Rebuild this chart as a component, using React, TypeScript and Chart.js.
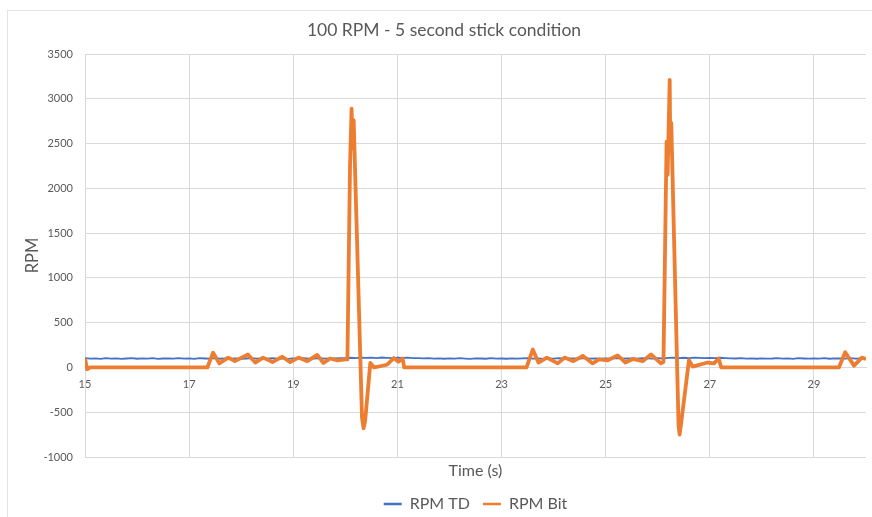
import React, { useEffect, useRef } from "react";
import { Chart, registerables } from "chart.js";

Chart.register(...registerables);

const TITLE = "100 RPM - 5 second stick condition";
const X_TITLE = "Time (s)";
const Y_TITLE = "RPM";
const SERIES_TD = "RPM TD";
const SERIES_BIT = "RPM Bit";
const X_TICKS = [15, 17, 19, 21, 23, 25, 27, 29];
const X_MIN = 15;
const X_MAX = 30;
const Y_MIN = -1000;
const Y_MAX = 3500;
const Y_STEP = 500;

// RPM TD is sampled evenly every 0.1 s starting at 15 s
const TD_START = 15;
const TD_STEP = 0.1;
const rpmTD = [
  104, 98, 101, 96, 103, 99, 102, 95, 100, 104,
  97, 101, 99, 103, 96, 100, 102, 98, 105, 99,
  101, 96, 103, 100, 98, 104, 97, 101, 99, 102,
  96, 100, 103, 98, 101, 97, 104, 99, 102, 96,
  101, 99, 103, 97, 100, 104, 98, 102, 100, 105,
  103, 108, 104, 110, 106, 109, 105, 111, 107, 104,
  109, 106, 110, 105, 103, 101, 104, 99, 102, 97,
  101, 98, 103, 99, 96, 102, 100, 97, 103, 99,
  100, 97, 102, 98, 101, 104, 99, 102, 96, 101,
  99, 103, 97, 101, 100, 98, 104, 99, 102, 97,
  101, 99, 104, 98, 102, 100, 97, 103, 101, 99,
  104, 100, 106, 109, 105, 108, 104, 110, 106, 103,
  107, 104, 108, 105, 102, 100, 103, 99, 101, 97,
  102, 98, 100, 104, 99, 101, 96, 103, 100, 98,
  101, 99, 103, 97, 102, 100, 98, 104, 99, 101,
  100,
];

const timeBit = [
  15.0, 15.04, 15.1, 17.35, 17.46, 17.58, 17.75, 17.88, 18.13, 18.27,
  18.42, 18.6, 18.79, 18.94, 19.1, 19.27, 19.46, 19.58, 19.71, 19.85,
  20.0, 20.04, 20.09, 20.12, 20.14, 20.16, 20.32, 20.35, 20.38, 20.48,
  20.55, 20.6, 20.8, 20.93, 21.02, 21.1, 21.13, 23.48, 23.6, 23.71,
  23.87, 24.08, 24.21, 24.38, 24.56, 24.75, 24.87, 25.04, 25.23, 25.38,
  25.52, 25.71, 25.87, 26.06, 26.11, 26.17, 26.19, 26.23, 26.24, 26.26,
  26.4, 26.42, 26.45, 26.6, 26.67, 26.96, 27.08, 27.17, 27.22, 29.48,
  29.6, 29.77, 29.92, 30.0,
];
const rpmBit = [
  100, -20, 0, 0, 165, 45, 110, 70, 145, 55,
  110, 60, 120, 60, 110, 70, 140, 50, 100, 80,
  90, 90, 2250, 2890, 2450, 2760, -560, -680, -600, 50,
  0, 5, 30, 105, 65, 100, 0, 0, 200, 55,
  110, 45, 110, 70, 130, 45, 90, 80, 135, 55,
  95, 70, 145, 45, 60, 2520, 2150, 3210, 2450, 2730,
  -650, -750, -620, 80, 10, 55, 45, 100, 0, 0,
  170, 20, 110, 95,
];

const FONT = "Lato, 'Open Sans', sans-serif";
const TEXT = "#595959";
const GRID = "#d9d9d9";
const BLUE = "#4472C4";
const ORANGE = "#ED7D31";

export default function App() {
  const ref = useRef<HTMLCanvasElement | null>(null);

  useEffect(() => {
    if (!ref.current) return;
    const tdData = rpmTD.map((v, i) => ({ x: TD_START + i * TD_STEP, y: v }));
    const bitData = timeBit.map((t, i) => ({ x: t, y: rpmBit[i] }));

    const chart = new Chart(ref.current, {
      type: "line",
      data: {
        datasets: [
          {
            label: SERIES_TD,
            data: tdData,
            borderColor: BLUE,
            backgroundColor: BLUE,
            borderWidth: 1.8,
            pointRadius: 0,
            tension: 0,
            order: 1,
          },
          {
            label: SERIES_BIT,
            data: bitData,
            borderColor: ORANGE,
            backgroundColor: ORANGE,
            borderWidth: 3.8,
            pointRadius: 0,
            tension: 0,
            borderJoinStyle: "round",
            order: 0,
          },
        ],
      },
      options: {
        animation: false,
        responsive: false,
        layout: { padding: { left: 22, right: 6, top: 0, bottom: -5 } },
        plugins: {
          title: {
            display: true,
            text: TITLE,
            color: TEXT,
            font: { family: FONT, size: 17.5, weight: "normal" },
            padding: { top: 20, bottom: 13 },
          },
          legend: {
            position: "bottom",
            fullSize: false,
            labels: {
              usePointStyle: true,
              pointStyleWidth: 18,
              padding: 13,
              color: TEXT,
              font: { family: FONT, size: 16 },
              sort: (a: any, b: any) => a.datasetIndex - b.datasetIndex,
              generateLabels: (c: any) =>
                Chart.defaults.plugins.legend.labels
                  .generateLabels(c)
                  .map((it: any) => ({ ...it, pointStyle: "line", lineWidth: 2.5 })),
            },
          },
          tooltip: { enabled: false },
        },
        scales: {
          x: {
            type: "linear",
            min: X_MIN,
            max: X_MAX,
            position: { y: 0 } as any,
            afterBuildTicks: (s: any) => {
              s.ticks = X_TICKS.map((v) => ({ value: v }));
            },
            grid: { color: GRID, drawTicks: false },
            border: { color: GRID },
            ticks: {
              padding: 10,
              color: TEXT,
              font: { family: FONT, size: 11 },
              maxRotation: 0,
              callback: (v: any) => String(v),
            },
          },
          xt: {
            type: "linear",
            position: "bottom",
            min: X_MIN,
            max: X_MAX,
            afterFit: (s: any) => {
              s.height = 26;
            },
            grid: { display: false, drawTicks: false },
            border: { display: false },
            ticks: { display: false },
            title: {
              display: true,
              text: X_TITLE,
              color: TEXT,
              font: { family: FONT, size: 16 },
              padding: { top: 0, bottom: 3 },
            },
          },
          y: {
            type: "linear",
            min: Y_MIN,
            max: Y_MAX,
            afterFit: (s: any) => {
              s.width = 63;
            },
            grid: { color: GRID, drawTicks: false },
            border: { color: GRID },
            ticks: {
              stepSize: Y_STEP,
              padding: 12,
              color: TEXT,
              font: { family: FONT, size: 11 },
              callback: (v: any) => String(v),
            },
            title: {
              display: true,
              text: Y_TITLE,
              color: TEXT,
              font: { family: FONT, size: 16.5 },
              padding: { top: 1, bottom: 0 },
            },
          },
        },
      },
    });
    return () => chart.destroy();
  }, []);

  return (
    <div
      style={{
        position: "fixed",
        left: 0,
        top: 0,
        width: 872,
        height: 517,
        overflow: "hidden",
        background: "#fff",
      }}
    >
      <div
        style={{
          position: "absolute",
          left: 7,
          top: 10,
          width: 900,
          height: 600,
          border: "1px solid #e3e3e3",
        }}
      />
      <canvas
        ref={ref}
        width={872}
        height={517}
        style={{ position: "absolute", left: 0, top: 0, width: 872, height: 517 }}
      />
    </div>
  );
}
